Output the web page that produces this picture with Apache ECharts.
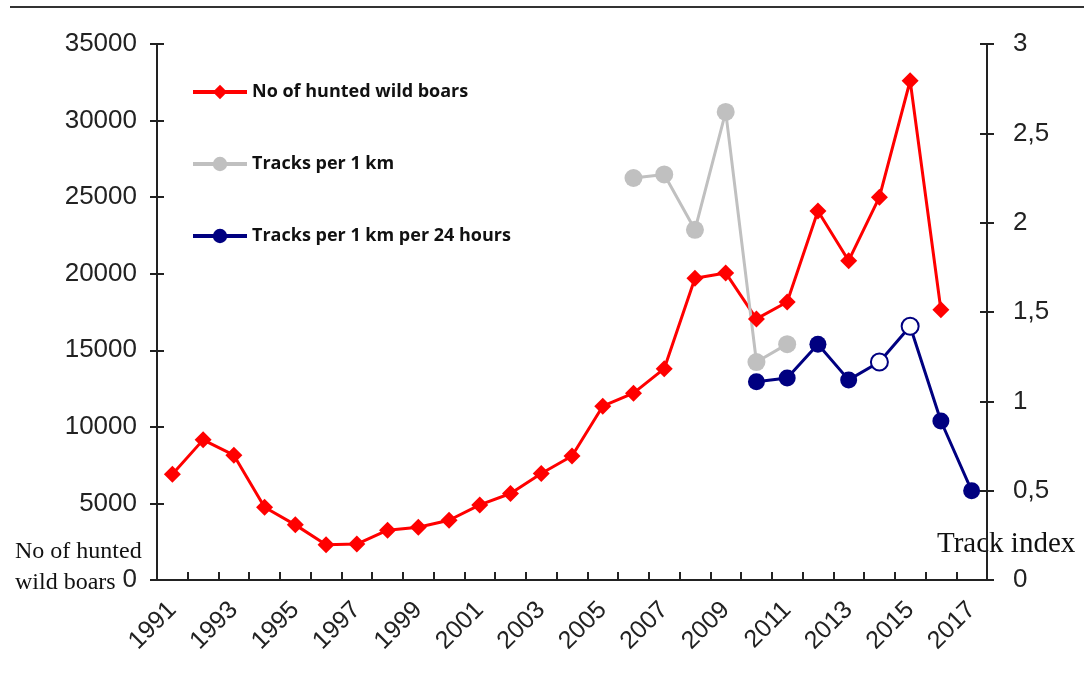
<!DOCTYPE html>
<html>
<head>
<meta charset="utf-8">
<script src="https://cdn.jsdelivr.net/npm/echarts@6/dist/echarts.min.js"></script>
<style>html,body{margin:0;padding:0;background:#fff}#c{width:1084px;height:685px}</style>
</head>
<body>
<div id="c"></div>
<script>
const years = ['1991','1992','1993','1994','1995','1996','1997','1998','1999','2000','2001','2002','2003','2004','2005','2006','2007','2008','2009','2010','2011','2012','2013','2014','2015','2016','2017'];
const hunted = [6900,9150,8150,4750,3600,2300,2350,3250,3450,3900,4900,5650,6950,8100,11350,12200,13800,19700,20050,17050,18150,24100,20850,25000,32600,17650,null];
const tracksPerKm = [null,null,null,null,null,null,null,null,null,null,null,null,null,null,null,2.25,2.27,1.96,2.62,1.22,1.32,null,null,null,null,null,null];
const tracksPerKmDay = [null,null,null,null,null,null,null,null,null,null,null,null,null,null,null,null,null,null,null,1.11,1.13,1.32,1.12,1.22,1.42,0.89,0.5];
const openYears = ['2014','2015'];
const leftTicks = {min:0, max:35000, interval:5000};
const rightTicks = {min:0, max:3, interval:0.5};
const seriesNames = ['No of hunted wild boars','Tracks per 1 km','Tracks per 1 km per 24 hours'];

const chart = echarts.init(document.getElementById('c'));
const axisLineStyle = {color:'#222', width:2};
const navy = '#000080';
const dayData = tracksPerKmDay.map((v,i)=> openYears.includes(years[i]) && v!=null
  ? {value:v, itemStyle:{color:'#fff', borderColor:navy, borderWidth:2}} : v);

function yAx(pos, t, inside, labels, fmt, margin){
  return {type:'value', position:pos, offset:0, min:t.min, max:t.max, interval:t.interval,
    splitLine:{show:false},
    axisLine:{show:true, onZero:false, lineStyle:axisLineStyle},
    axisTick:{show:true, inside:inside, length:7, lineStyle:axisLineStyle},
    axisLabel:{show:labels, color:'#222', fontFamily:'Liberation Sans', fontSize:26, margin:margin||8, formatter:fmt}};
}

chart.setOption({
  animation:false,
  backgroundColor:'#fff',
  grid:{left:157, right:97, top:44, bottom:105},
  legend:{
    orient:'vertical', left:186, top:78, itemGap:54, itemWidth:54, itemHeight:18,
    lineStyle:{width:4},
    textStyle:{fontFamily:'Open Sans', fontWeight:'bold', fontSize:18, color:'#111'},
    data:seriesNames
  },
  xAxis:[
    {type:'category', data:years, boundaryGap:true,
     axisLine:{onZero:false, lineStyle:axisLineStyle},
     axisTick:{interval:0, length:8, lineStyle:axisLineStyle},
     axisLabel:{interval:1, rotate:45, color:'#222', fontFamily:'Liberation Sans', fontSize:25, margin:26}},
    {type:'category', data:years, boundaryGap:true, position:'bottom', offset:0,
     axisLine:{show:true, onZero:false, lineStyle:axisLineStyle},
     axisTick:{show:true, interval:0, inside:true, length:8, lineStyle:axisLineStyle}, axisLabel:{show:false}}
  ],
  yAxis:[
    yAx('left', leftTicks, false, true, v=>String(v), 20),
    yAx('right', rightTicks, false, true, v=>String(v).replace('.', ','), 26),
    yAx('left', leftTicks, true, false),
    yAx('right', rightTicks, true, false)
  ],
  graphic:[
    {type:'line', shape:{x1:10, y1:7, x2:1084, y2:7}, style:{stroke:'#333', lineWidth:2}},
    {type:'text', left:15, top:536, style:{text:'No of hunted\nwild boars', font:'24px "Liberation Serif"', fill:'#111', lineHeight:31}},
    {type:'text', left:937, top:530, style:{text:'Track index', font:'29px "Liberation Serif"', fill:'#111'}}
  ],
  series:[
    {name:seriesNames[0], type:'line', xAxisIndex:0, yAxisIndex:0, data:hunted,
     symbol:'diamond', symbolSize:17, connectNulls:false,
     lineStyle:{color:'#ff0000', width:3}, itemStyle:{color:'#ff0000'}},
    {name:seriesNames[1], type:'line', xAxisIndex:0, yAxisIndex:1, data:tracksPerKm,
     symbol:'circle', symbolSize:18, connectNulls:false,
     lineStyle:{color:'#c0c0c0', width:3}, itemStyle:{color:'#c0c0c0'}},
    {name:seriesNames[2], type:'line', xAxisIndex:0, yAxisIndex:1, data:dayData,
     symbol:'circle', symbolSize:17, connectNulls:false,
     lineStyle:{color:navy, width:3}, itemStyle:{color:navy}},
    {name:'_ticksA', type:'line', xAxisIndex:1, yAxisIndex:2, data:[], silent:true},
    {name:'_ticksB', type:'line', xAxisIndex:1, yAxisIndex:3, data:[], silent:true}
  ]
});
</script>
</body>
</html>
